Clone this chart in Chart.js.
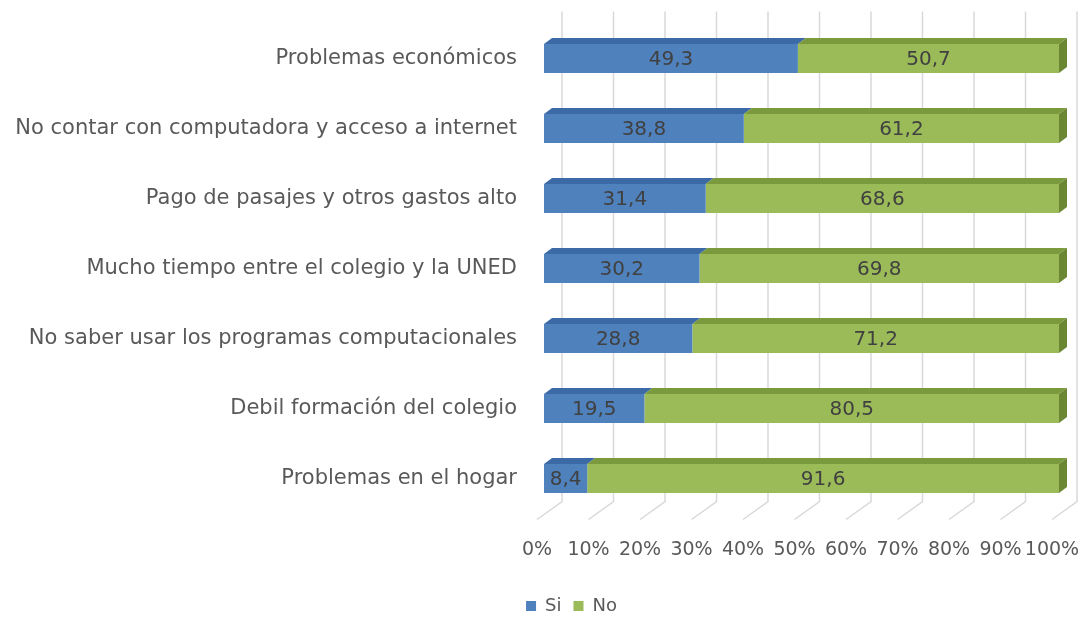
<!DOCTYPE html>
<html>
<head>
<meta charset="utf-8">
<script src="https://cdn.jsdelivr.net/npm/chart.js@4"></script>
<style>
html, body { margin: 0; padding: 0; background: #fff; }
#wrap { width: 1083px; height: 617px; }
</style>
</head>
<body>
<div id="wrap"><canvas id="motivosChart"></canvas></div>
<script>
var categorias = ['Problemas económicos', 'No contar con computadora y acceso a internet', 'Pago de pasajes y otros gastos alto', 'Mucho tiempo entre el colegio y la UNED', 'No saber usar los programas computacionales', 'Debil formación del colegio', 'Problemas en el hogar'];
var si = [49.3, 38.8, 31.4, 30.2, 28.8, 19.5, 8.4];
var no = [50.7, 61.2, 68.6, 69.8, 71.2, 80.5, 91.6];
var ticksX = ['0%', '10%', '20%', '30%', '40%', '50%', '60%', '70%', '80%', '90%', '100%'];

Chart.defaults.font.family = "'DejaVu Sans', sans-serif";

// profundidad del efecto 3D
var dx = 8, dy = 6;

// rejilla de fondo y piso en perspectiva
var rejilla3d = {
    id: 'rejilla3d',
    beforeDatasetsDraw: function (chart) {
        var ctx = chart.ctx, x = chart.scales.x, area = chart.chartArea;
        ctx.save();
        ctx.strokeStyle = '#d9d9d9';
        ctx.lineWidth = 1.5;
        for (var i = 0; i < ticksX.length; i++) {
            var fx = x.getPixelForValue(i * 10) - 7;
            var bx = fx + 25;
            ctx.beginPath();
            ctx.moveTo(bx, area.top - 12);
            ctx.lineTo(bx, area.bottom - 12);
            ctx.lineTo(fx, area.bottom + 6);
            ctx.stroke();
        }
        ctx.restore();
    }
};

// caras superiores/laterales y etiquetas de datos
var barras3d = {
    id: 'barras3d',
    afterDatasetsDraw: function (chart) {
        var ctx = chart.ctx;
        var last = chart.data.datasets.length - 1;
        ctx.save();
        chart.data.datasets.forEach(function (ds, i) {
            chart.getDatasetMeta(i).data.forEach(function (bar) {
                var p = bar.getProps(['x', 'y', 'base', 'height'], true);
                var top = p.y - p.height / 2, bottom = p.y + p.height / 2;
                var x0 = Math.min(p.base, p.x), x1 = Math.max(p.base, p.x);
                ctx.fillStyle = ds.topColor;
                ctx.beginPath();
                ctx.moveTo(x0, top);
                ctx.lineTo(x1, top);
                ctx.lineTo(x1 + dx, top - dy);
                ctx.lineTo(x0 + dx, top - dy);
                ctx.closePath();
                ctx.fill();
                if (i === last) {
                    ctx.fillStyle = ds.sideColor;
                    ctx.beginPath();
                    ctx.moveTo(x1, top);
                    ctx.lineTo(x1 + dx, top - dy);
                    ctx.lineTo(x1 + dx, bottom - dy);
                    ctx.lineTo(x1, bottom);
                    ctx.closePath();
                    ctx.fill();
                }
            });
        });
        ctx.fillStyle = '#404040';
        ctx.font = "20px 'DejaVu Sans', sans-serif";
        ctx.textAlign = 'center';
        ctx.textBaseline = 'middle';
        chart.data.datasets.forEach(function (ds, i) {
            chart.getDatasetMeta(i).data.forEach(function (bar, j) {
                var p = bar.getProps(['x', 'y', 'base'], true);
                ctx.fillText(ds.data[j].toFixed(1).replace('.', ','), (p.x + p.base) / 2, p.y + 1);
            });
        });
        ctx.restore();
    }
};

// la leyenda va un poco a la derecha del centro
var leyendaDesplazada = {
    id: 'leyendaDesplazada',
    afterLayout: function (chart) {
        if (chart.legend) {
            chart.legend.left += 60;
        }
    }
};

var motivos = document.getElementById('motivosChart').getContext('2d');
var motivosChart = new Chart(motivos, {
    type: 'bar',
    data: {
        labels: categorias,
        datasets: [
            {
                label: 'Si',
                backgroundColor: '#4f81bd',
                topColor: '#3b6aa6',
                sideColor: '#34609a',
                data: si,
                barPercentage: 0.414,
                categoryPercentage: 1
            },
            {
                label: 'No',
                backgroundColor: '#9bbb59',
                topColor: '#7b9a3e',
                sideColor: '#6b8734',
                data: no,
                barPercentage: 0.414,
                categoryPercentage: 1
            }
        ]
    },
    options: {
        indexAxis: 'y',
        responsive: true,
        maintainAspectRatio: false,
        animation: false,
        layout: { padding: { top: 23.5, right: 0, left: 0, bottom: 0 } },
        scales: {
            x: {
                stacked: true,
                min: 0,
                max: 100,
                grid: { display: false, drawTicks: false },
                border: { display: false },
                ticks: {
                    stepSize: 10,
                    autoSkip: false,
                    maxRotation: 0,
                    padding: 25,
                    labelOffset: -7,
                    color: '#595959',
                    font: { size: 19 },
                    callback: function (v, i) { return ticksX[i]; }
                },
                afterFit: function (s) {
                    s.height = 71.5;
                    s.paddingLeft = 0;
                    s.paddingRight = 24;
                }
            },
            y: {
                stacked: true,
                grid: { display: false, drawTicks: false },
                border: { display: false },
                ticks: { padding: 27, color: '#595959', font: { size: 21 } },
                afterFit: function (s) {
                    s.width = 544;
                    s.paddingTop = 0;
                    s.paddingBottom = 0;
                }
            }
        },
        plugins: {
            legend: {
                position: 'bottom',
                maxHeight: 32,
                labels: { boxWidth: 10, boxHeight: 10, color: '#595959', font: { size: 18 }, padding: 12 }
            },
            tooltip: { enabled: false }
        }
    },
    plugins: [rejilla3d, barras3d, leyendaDesplazada]
});
</script>
</body>
</html>
